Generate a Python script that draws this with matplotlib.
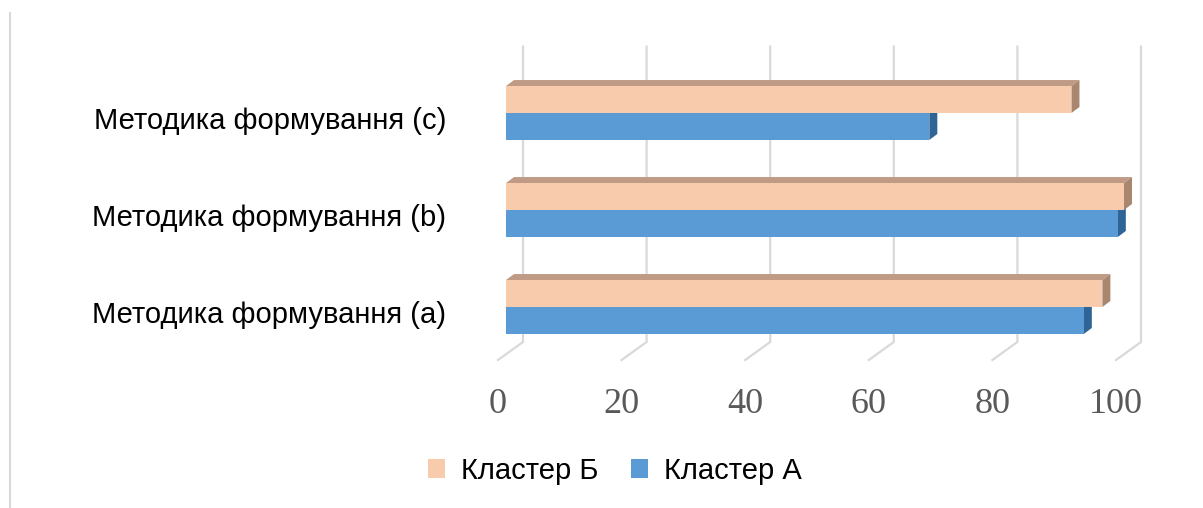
import matplotlib
matplotlib.use("Agg")
import matplotlib.pyplot as plt
from matplotlib.patches import Polygon, Patch
from matplotlib.lines import Line2D

# ---- data -------------------------------------------------------------
categories = ["Методика формування (a)", "Методика формування (b)", "Методика формування (c)"]
series_names = ["Кластер А", "Кластер Б"]
cluster_a = [93.5, 99.0, 68.5]
cluster_b = [96.5, 100.0, 91.5]
x_ticks = [0, 20, 40, 60, 80, 100]

# ---- style ------------------------------------------------------------
colors = {
    "Кластер А": {"front": "#5B9BD5", "top": "#4A86BE", "side": "#2F6596"},
    "Кластер Б": {"front": "#F8CBAD", "top": "#BF9B86", "side": "#A9876F"},
}
grid_color = "#D9D9D9"

W, H = 1203, 508
fig = plt.figure(figsize=(W / 100, H / 100), dpi=100)
fig.patch.set_facecolor("white")

# axes: value 0..100 spans the bar front plane, categories 0..2
ax_left, ax_width = 506, 618
ax_bottom, ax_height = 104, 388
ax = fig.add_axes([ax_left / W, ax_bottom / H, ax_width / W, ax_height / H])
ax.set_xlim(0, 100)
ax.set_ylim(-1, 3)
ax.axis("off")

ppx = ax_width / 100.0      # pixels per value unit
ppy = ax_height / 4.0       # pixels per category unit

def dx(px):
    return px / ppx

def dy(px):
    return px / ppy

# pseudo-3D depth steps (pixels)
bar_depth = (8, 6)      # bar front -> bar back
wall = (17, 12)         # bar front -> back wall
floor_front = (-8, -6)  # bar front -> front edge of the floor

# back-wall gridlines with floor diagonals
grid_top = 2.56
grid_bottom = -0.4845
for v in x_ticks:
    xb = v + dx(wall[0])
    yb_top = grid_top + dy(wall[1])
    yb_bot = grid_bottom + dy(wall[1])
    xf = v + dx(floor_front[0])
    yf = grid_bottom + dy(floor_front[1])
    ax.add_line(Line2D([xb, xb, xf], [yb_top, yb_bot, yf], color=grid_color,
                       lw=1.6, zorder=0, clip_on=False, solid_joinstyle="miter"))

# bars
bar_h = 0.278
ypos = list(range(len(categories)))
DX, DY = dx(bar_depth[0]), dy(bar_depth[1])

def draw_bar(y0, value, col, z):
    y1 = y0 + bar_h
    top = Polygon([(0, y1), (value, y1), (value + DX, y1 + DY), (DX, y1 + DY)],
                  closed=True, facecolor=col["top"], edgecolor="none", zorder=z, clip_on=False)
    side = Polygon([(value, y0), (value, y1), (value + DX, y1 + DY), (value + DX, y0 + DY)],
                   closed=True, facecolor=col["side"], edgecolor="none", zorder=z, clip_on=False)
    ax.add_patch(top)
    ax.add_patch(side)

for i, y in enumerate(ypos):
    # lower bar: Кластер А, upper bar: Кластер Б
    ya = y - bar_h
    yb = y
    draw_bar(ya, cluster_a[i], colors["Кластер А"], 2 + 3 * i)
    ax.barh(ya + bar_h / 2, cluster_a[i], height=bar_h, color=colors["Кластер А"]["front"],
            zorder=2.5 + 3 * i, clip_on=False, linewidth=0)
    draw_bar(yb, cluster_b[i], colors["Кластер Б"], 3 + 3 * i)
    ax.barh(yb + bar_h / 2, cluster_b[i], height=bar_h, color=colors["Кластер Б"]["front"],
            zorder=3.5 + 3 * i, clip_on=False, linewidth=0)

# value axis labels on the front edge of the floor
for v in x_ticks:
    ax.text(v + dx(floor_front[0]), -1.093, str(v), ha="center", va="baseline",
            fontsize=26, color="#595959", family="Liberation Serif", clip_on=False)

# category labels
for i, name in enumerate(categories):
    ax.text(dx(446 - ax_left), ypos[i] - dy(8), name, ha="right", va="center",
            fontsize=21, color="black", family="Liberation Sans", clip_on=False)

# legend
handles = [Patch(facecolor=colors["Кластер Б"]["front"], edgecolor="none", label="Кластер Б"),
           Patch(facecolor=colors["Кластер А"]["front"], edgecolor="none", label="Кластер А")]
fig.legend(handles=handles, loc="center", bbox_to_anchor=(615 / W, 1 - 471 / H), ncol=2,
           frameon=False, handlelength=0.6, handleheight=0.6, handletextpad=0.55,
           columnspacing=1.1, prop={"family": "Liberation Sans", "size": 21})

# thin frame line on the left
fig.add_artist(Line2D([9.5 / W, 9.5 / W], [0, 1 - 13 / H], color="#D9D9D9", lw=1.5))

fig.savefig("out.png", dpi=100)
